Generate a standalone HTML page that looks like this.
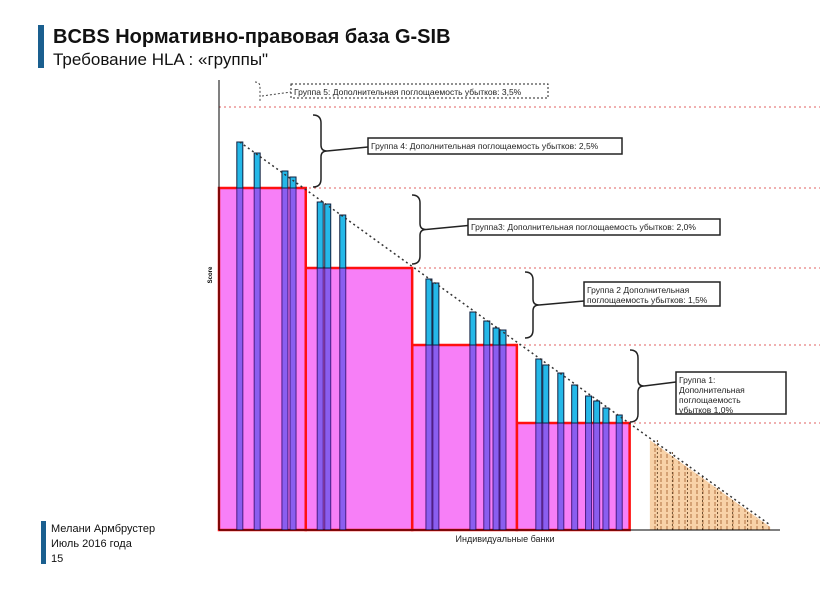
<!DOCTYPE html>
<html><head><meta charset="utf-8"><style>
body{margin:0;background:#fff;width:834px;height:587px;overflow:hidden;font-family:"Liberation Sans","Noto Sans CJK SC",sans-serif}
</style></head><body>
<svg id="chart" width="834" height="587" viewBox="0 0 834 587" xmlns="http://www.w3.org/2000/svg" font-family="Liberation Sans, sans-serif">
<defs>
<pattern id="hatch" width="6" height="6" patternUnits="userSpaceOnUse">
<rect width="6" height="6" fill="#f8d2a8"/><line x1="1" y1="0" x2="1" y2="6" stroke="#b07040" stroke-width="1" stroke-dasharray="2,2"/>
</pattern>
</defs>
<rect x="38" y="25" width="6" height="43" fill="#1a5f8f"/>
<text x="53" y="43" font-size="20" font-weight="bold" fill="#111">BCBS Нормативно-правовая база G-SIB</text>
<text x="53" y="65" font-size="17" fill="#111">Требование HLA : «группы"</text>
<rect x="41" y="521" width="5" height="43" fill="#1a5f8f"/>
<text x="51" y="532" font-size="11" fill="#111">Мелани Армбрустер</text>
<text x="51" y="547" font-size="11" fill="#111">Июль 2016 года</text>
<text x="51" y="562" font-size="11" fill="#111">15</text>
<g id="plot"></g>
</svg>
<script>
const bucketNames = ["Группа 1","Группа 2","Группа 3","Группа 4","Группа 5"];
const bucketThresholds = [107, 185, 262, 342, 423];
const bucketLeftRanks = [51.5, 33.4, 15, 0];
const bucketRightRanks = [71, 51.5, 33.4, 15];
const bankRanks = [3.6,6.6,11.4,12.8,17.5,18.8,21.4,36.3,37.5,43.9,46.3,47.9,49.1,55.3,56.5,59.1,61.5,63.9,65.3,66.9,69.2];
const bankScores = [388,377,359,353,328,326,315,251,247,218,209,202,200,171,165,157,145,134,129,122,115];
const tailRanks = [74.5, 95.3];
const tailScores = [90,78,66,54,42,30,18,8];
const bracketTexts = ["Группа 1: Дополнительная поглощаемость убытков: 1,0%","Группа 2 Дополнительная поглощаемость убытков: 1,5%","Группа3: Дополнительная поглощаемость убытков: 2,0%","Группа 4: Дополнительная поглощаемость убытков: 2,5%","Группа 5: Дополнительная поглощаемость убытков: 3,5%"];

const NS="http://www.w3.org/2000/svg";
const plot=document.getElementById('plot');
const x0=219, xMaxRank=97, x1=780, yBase=530;
function xs(r){return x0 + r*(x1-x0)/xMaxRank;}
function ys(v){return yBase - v;}
function mk(tag,attrs,parent){const e=document.createElementNS(NS,tag);for(const k in attrs)e.setAttribute(k,attrs[k]);(parent||plot).appendChild(e);return e;}

bucketThresholds.forEach(function(t){
  const l=mk('line',{x1:x0,x2:820,y1:ys(t),y2:ys(t),stroke:'#e06060','stroke-width':1,'stroke-dasharray':'2,3'});
  
  
});
for(let i=0;i<4;i++){
  const left=xs(bucketLeftRanks[i]), right=xs(bucketRightRanks[i]);
  const r=mk('rect',{x:left,y:ys(bucketThresholds[i]),width:right-left,height:yBase-ys(bucketThresholds[i]),fill:'#f77ff7',stroke:'#ff1010','stroke-width':2.5});
  
  
}
bankRanks.forEach(function(rk,i){
  const cx=xs(rk), w=6, top=ys(bankScores[i]);
  let th=bucketThresholds[0];
  for(let k=bucketThresholds.length-1;k>=0;k--){ if(bankScores[i]>=bucketThresholds[k]){th=bucketThresholds[k];break;} }
  const b=mk('rect',{x:cx-w/2,y:ys(th),width:w,height:yBase-ys(th),fill:'#8a5ef0',stroke:'#4a1a80','stroke-width':1});
  
  
  const t=mk('rect',{x:cx-w/2,y:top,width:w,height:ys(th)-top,fill:'#25b8e8',stroke:'#102040','stroke-width':1});
  
  
});
const tr0=xs(tailRanks[0]), tr1=xs(tailRanks[1]);
const tri=mk('polygon',{points:tr0+','+ys(tailScores[0])+' '+tr1+','+ys(3)+' '+tr1+','+yBase+' '+tr0+','+yBase,fill:'url(#hatch)'});


tailScores.forEach(function(s,i){
  const xx=tr0+(i+0.5)*(tr1-tr0)/tailScores.length;
  const l=mk('line',{x1:xx,x2:xx,y1:ys(s),y2:yBase,stroke:'#705030','stroke-width':1,'stroke-dasharray':'2,2'});
  
  
});
const dg=mk('line',{x1:xs(bankRanks[0]),y1:ys(bankScores[0]),x2:xs(tailRanks[1]),y2:ys(5),stroke:'#333','stroke-width':1.5,'stroke-dasharray':'2,3'});


const ya=mk('line',{x1:x0,y1:80,x2:x0,y2:yBase,stroke:'#000','stroke-width':1});


const xa=mk('line',{x1:x0,y1:yBase,x2:x1,y2:yBase,stroke:'#000','stroke-width':1});


const yt=mk('text',{x:0,y:0,'font-size':6,'font-weight':'bold',transform:'translate(212,275) rotate(-90)','text-anchor':'middle'});
yt.textContent='Score';


const xt=mk('text',{x:505,y:542,'font-size':9,'text-anchor':'middle',fill:'#222'});
xt.textContent='Индивидуальные банки';



function brace(x,y1,y2,tipX){
  const m=(y1+y2)/2;
  const p=mk('path',{d:'M'+x+','+y1+' q8,0 8,8 L'+(x+8)+','+(m-6)+' q0,6 6,6 q-6,0 -6,6 L'+(x+8)+','+(y2-8)+' q0,8 -8,8',fill:'none',stroke:'#222','stroke-width':1.5});
  
  
  const l=mk('line',{x1:x+14,y1:m,x2:tipX,y2:m-4,stroke:'#222','stroke-width':1.5});
  
  
}
const boxes=[[676,372,110,42],[584,282,136,24],[468,219,252,16],[368,138,254,16],[291,84,257,14]];
const braceY=[[350,422],[272,338],[195,264],[115,187]];
const braceX=[630,525,412,313];
for(let i=0;i<4;i++) brace(braceX[i],braceY[i][0],braceY[i][1],boxes[i][0]);
const g5=mk('path',{d:'M255,82 q5,0 5,5 L260,102 M262,96 L291,92',fill:'none',stroke:'#444','stroke-width':1,'stroke-dasharray':'2,2'});


const wrapLines=[["Группа 1:","Дополнительная","поглощаемость","убытков  1,0%"],["Группа 2 Дополнительная","поглощаемость убытков: 1,5%"],[bracketTexts[2]],[bracketTexts[3]],[bracketTexts[4]]];
boxes.forEach(function(b,i){
  const r=mk('rect',{x:b[0],y:b[1],width:b[2],height:b[3],fill:'#fff',stroke:'#222','stroke-width':i==4?1:1.5});
  if(i==4) r.setAttribute('stroke-dasharray','2,2');
  
  
  wrapLines[i].forEach(function(s,j){
    const t=mk('text',{x:b[0]+3,y:b[1]+11+j*10,'font-size':8.5,fill:'#222'});
    t.textContent=s;
    
    
  });
});
</script>
</body></html>
